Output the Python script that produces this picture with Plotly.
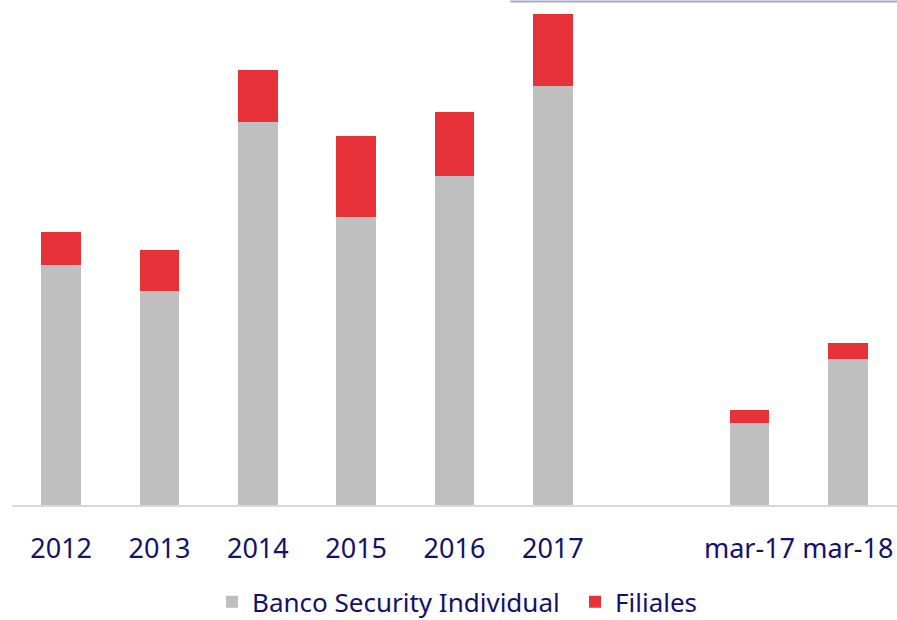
import plotly.graph_objects as go

categories = ["2012", "2013", "2014", "2015", "2016", "2017", " ", "mar-17", "mar-18"]
banco_individual = [240, 214, 383, 288, 329, 419, None, 82, 146]
filiales = [33, 41, 52, 81, 64, 72, None, 13, 16]

TEXT = "#13116b"
FONT = "Noto Sans"

fig = go.Figure()
fig.add_trace(go.Bar(x=categories, y=banco_individual, name="Banco Security Individual",
                     marker=dict(color="#bfbfbf", line=dict(width=0))))
fig.add_trace(go.Bar(x=categories, y=filiales, name="Filiales",
                     marker=dict(color="#e8323a", line=dict(width=0))))

fig.update_layout(
    barmode="stack",
    bargap=0.594,
    width=897, height=620,
    margin=dict(l=12, r=0, t=0, b=115, autoexpand=False),
    paper_bgcolor="white", plot_bgcolor="white",
    font=dict(family=FONT, color=TEXT, size=27),
    xaxis=dict(type="category", categoryorder="array", categoryarray=categories,
               showline=True, linecolor="#d9d9d9", linewidth=2, automargin=False,
               showgrid=False, ticks="", tickfont=dict(size=27, color=TEXT),
               ticklabelstandoff=19, range=[-0.5, 8.5]),
    yaxis=dict(visible=False, range=[0, 505], automargin=False),
    legend=dict(orientation="h", x=0.226, xanchor="left", yref="container",
                y=0.067, yanchor="top",
                font=dict(size=26, color=TEXT), itemsizing="constant",
                traceorder="normal", tracegroupgap=0, itemwidth=30,
                entrywidth=318),
    showlegend=True,
)
fig.add_shape(type="line", xref="paper", yref="paper", x0=0.563, x1=1.0, y0=0.997, y1=0.997,
              line=dict(color="#a9a6d0", width=2))

fig.write_html("out.html", config={"displayModeBar": False},
               post_script="document.body.style.margin='0';document.body.style.overflow='hidden';")
